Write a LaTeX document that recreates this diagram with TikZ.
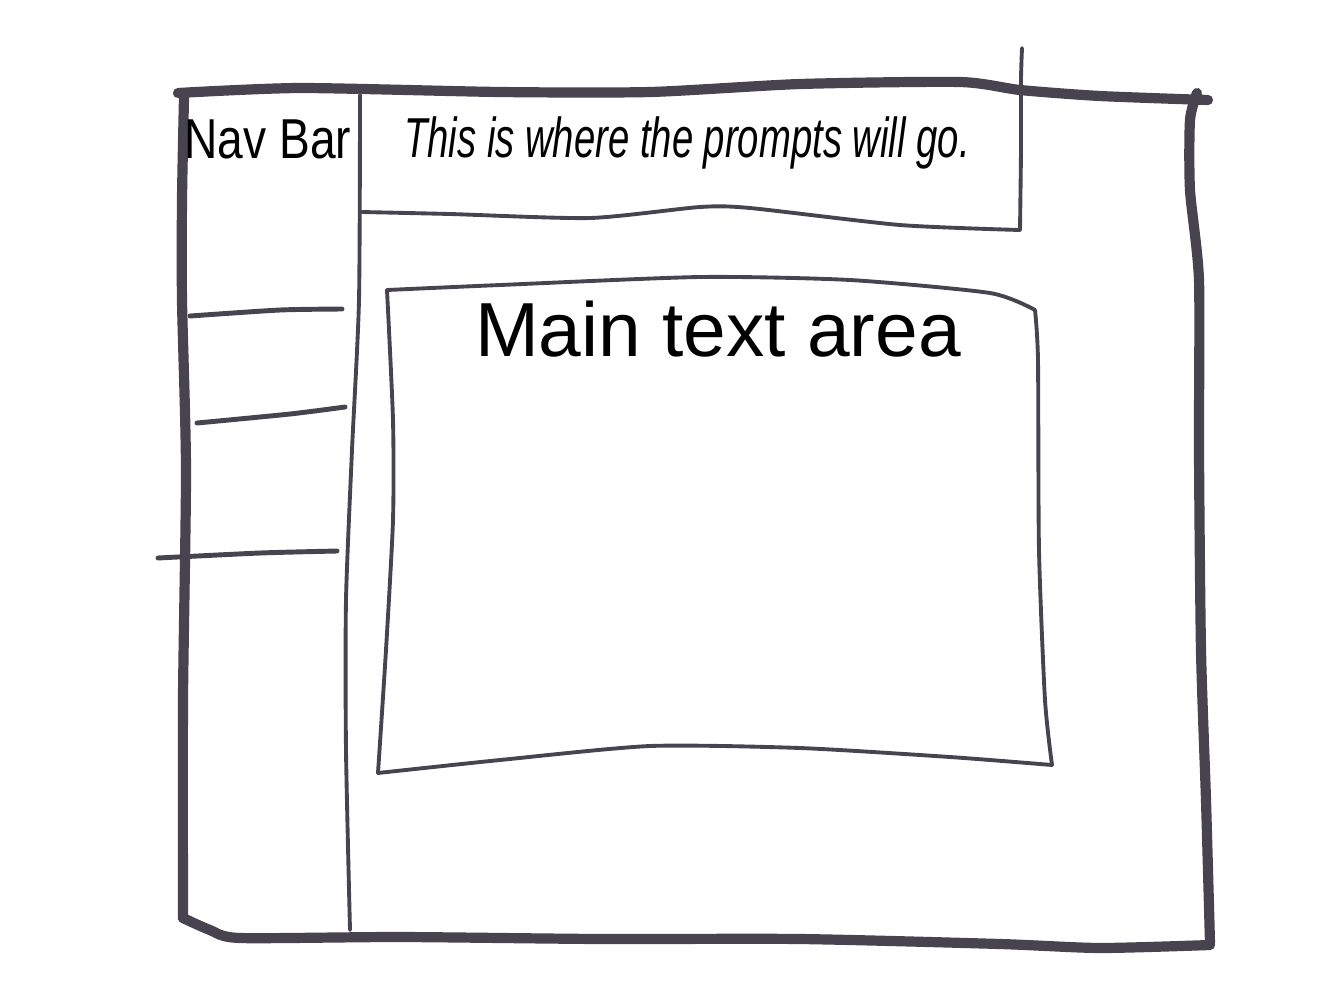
\documentclass[tikz,border=0pt]{standalone}
\usepackage{fontspec}
\setmainfont{Liberation Sans}
\usetikzlibrary{positioning}
\definecolor{pen}{HTML}{47444F}
\tikzset{
    thickpen/.style={draw=pen, line width=2.9pt, line cap=round, line join=round},
    midpen/.style={draw=pen, line width=1.4pt, line cap=round, line join=round},
    thinpen/.style={draw=pen, line width=1.1pt, line cap=round, line join=round},
    label/.style={inner sep=0pt, anchor=base, text=black}
}

\begin{document}
\begin{tikzpicture}[x=0.01cm, y=-0.01cm]
    \useasboundingbox (0,0) rectangle (1344,1008);
    % outer window frame
    \draw[thickpen] plot[smooth, tension=0.4] coordinates {(178,93) (300,88) (500,92) (650,92) (800,84) (960,82) (1020,90) (1100,96) (1208,100)};
    \draw[thickpen] plot[smooth, tension=0.4] coordinates {(1197,93) (1190,120) (1190,190) (1199,280) (1199,450) (1201,650) (1206,800) (1210,943)};
    \draw[thickpen] plot[smooth, tension=0.4] coordinates {(1210,945) (1100,948) (1000,944) (800,939) (600,939) (400,937) (240,938) (210,930) (183,918)};
    \draw[thickpen] plot[smooth, tension=0.4] coordinates {(183,918) (183,700) (186,470) (182,300) (182,200) (184,97)};
    % nav bar divider and menu lines
    \draw[thinpen] plot[smooth, tension=0.4] coordinates {(360,95) (359,300) (352,450) (346,600) (346,750) (350,930)};
    \draw[midpen] plot[smooth, tension=0.4] coordinates {(190,316) (280,310) (342,309)};
    \draw[midpen] plot[smooth, tension=0.4] coordinates {(197,423) (290,414) (345,407)};
    \draw[midpen] plot[smooth, tension=0.4] coordinates {(158,558) (260,553) (337,551)};
    % prompt box
    \draw[thinpen] plot[smooth, tension=0.4] coordinates {(362,212) (450,214) (590,218) (700,207) (750,208) (900,225) (1020,230)};
    \draw[thinpen] plot[smooth, tension=0.4] coordinates {(1020,230) (1021,150) (1021,80) (1022,48)};
    % main text box
    \draw[thinpen] plot[smooth, tension=0.4] coordinates {(387,290) (500,285) (700,277) (850,280) (990,293) (1035,310)};
    \draw[thinpen] plot[smooth, tension=0.4] coordinates {(1035,310) (1038,360) (1039,550) (1045,700) (1052,765)};
    \draw[thinpen] plot[smooth, tension=0.4] coordinates {(1052,765) (950,757) (800,748) (650,746) (500,760) (378,773)};
    \draw[thinpen] plot[smooth, tension=0.4] coordinates {(378,773) (386,650) (393,520) (393,420) (387,290)};
    % labels
    \node[label, font=\fontsize{16}{18}\selectfont, xscale=0.82] (navbar) at (268,158) {Nav Bar};
    \node[label, font=\fontsize{16}{18}\selectfont\itshape, xscale=0.68] (prompts) at (687,157) {This is where the prompts will go.};
    \node[label, font=\fontsize{21.8}{24}\selectfont] (maintext) at (718,356) {Main text area};
\end{tikzpicture}
\end{document}
